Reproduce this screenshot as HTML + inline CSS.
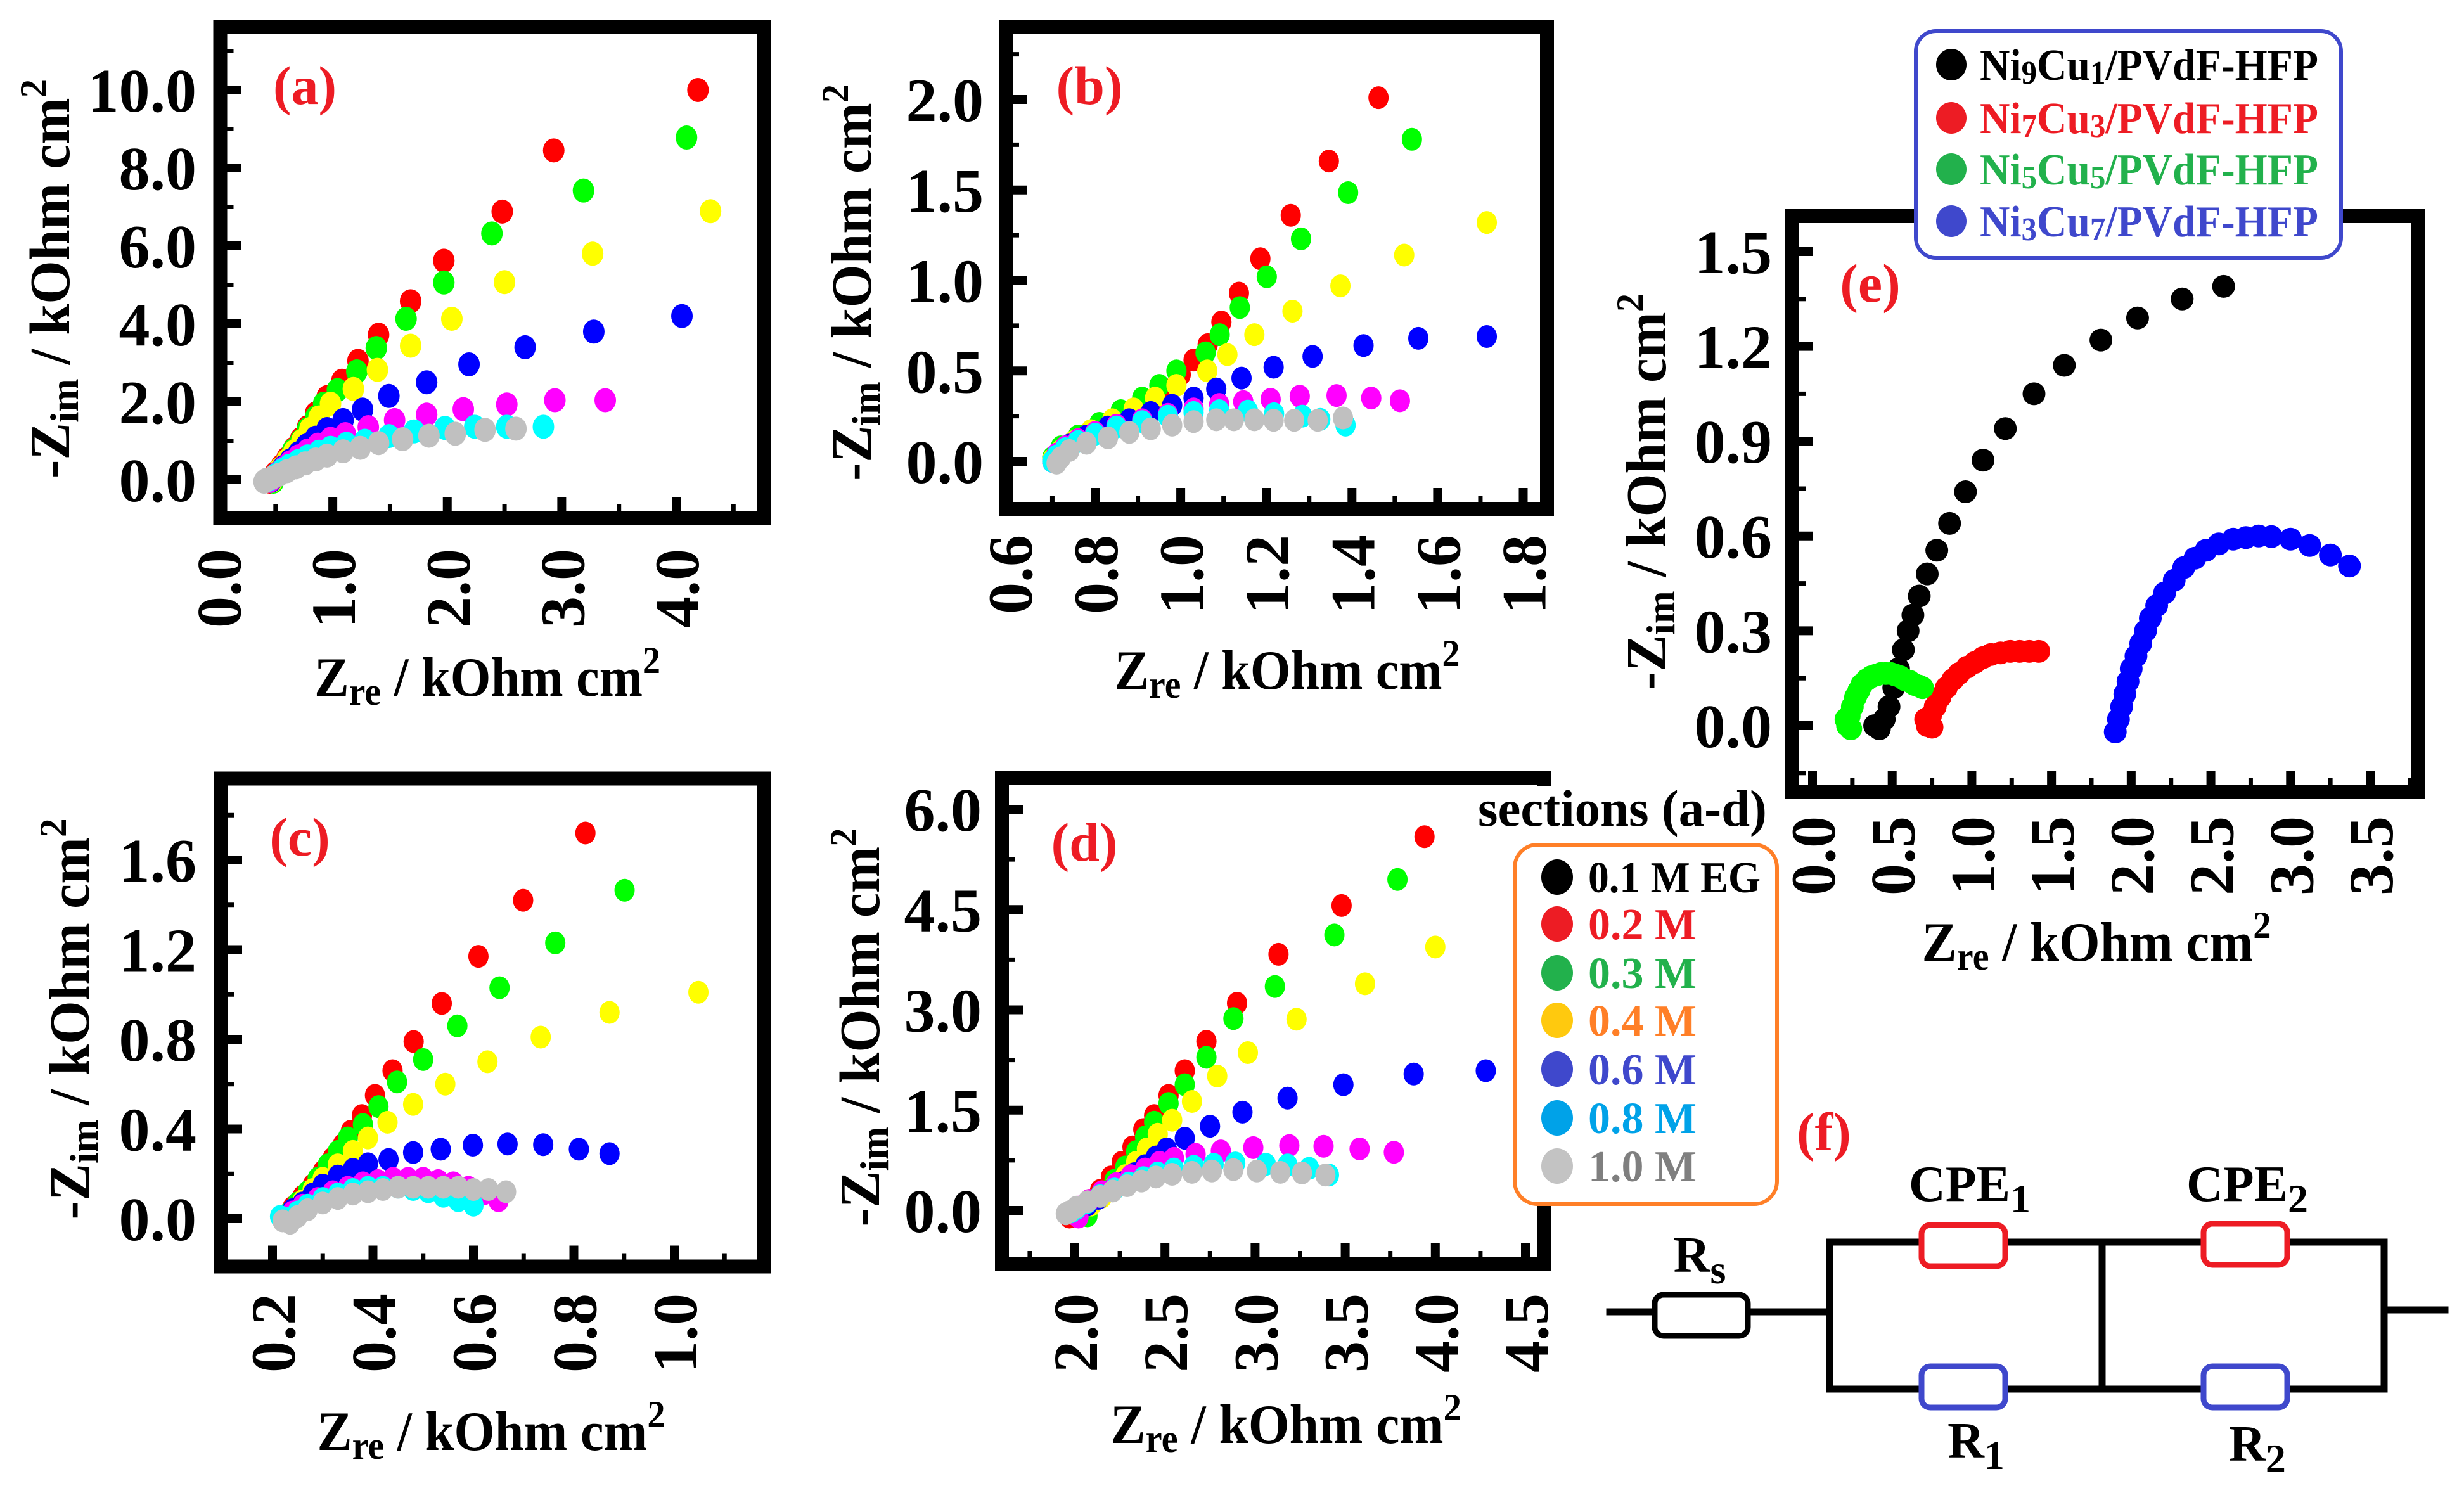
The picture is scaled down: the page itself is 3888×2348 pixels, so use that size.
<!DOCTYPE html>
<html><head><meta charset="utf-8"><style>
html,body{margin:0;padding:0;background:#fff;}
svg{display:block;}
text{font-family:"Liberation Serif","DejaVu Serif",serif;font-weight:bold;}
</style></head><body>
<svg id="fig" xmlns="http://www.w3.org/2000/svg" width="3888" height="2348" viewBox="0 0 3888 2348">
<rect x="0" y="0" width="3888" height="2348" fill="#fff"/>
</svg>
<script>
// ---------- DATA ----------
const seriesNames=['0.2 M','0.3 M','0.4 M','0.6 M','0.8 M','1.0 M'];
const seriesColors=['#ff0000','#00ff00','#ffff00','#0000ff','#ff00ff','#00ffff','#c0c0c0'];
// panel (a)
const a_red=[[4.19,10.0],[2.93,8.45],[2.48,6.88],[1.97,5.62],[1.68,4.58],[1.40,3.72],[1.22,3.05],[1.08,2.54],[0.95,2.12],[0.85,1.7],[0.78,1.35],[0.72,1.05],[0.66,0.8],[0.6,0.55],[0.55,0.35],[0.5,0.18],[0.47,0.05],[0.45,-0.05]];
const a_green=[[4.09,8.78],[3.19,7.42],[2.39,6.32],[1.97,5.06],[1.64,4.13],[1.38,3.38],[1.21,2.78],[1.04,2.3],[0.92,1.95],[0.85,1.6],[0.78,1.3],[0.72,1.0],[0.65,0.75],[0.6,0.5],[0.55,0.3],[0.5,0.1],[0.48,-0.05]];
const a_yellow=[[4.30,6.89],[3.27,5.8],[2.50,5.07],[2.04,4.13],[1.68,3.44],[1.39,2.82],[1.18,2.33],[0.98,1.95],[0.88,1.6],[0.8,1.3],[0.73,1.0],[0.66,0.72],[0.6,0.5],[0.54,0.28],[0.5,0.1],[0.47,-0.03]];
const a_blue=[[4.05,4.2],[3.28,3.8],[2.68,3.4],[2.19,2.96],[1.82,2.5],[1.49,2.15],[1.26,1.8],[1.09,1.53],[0.95,1.3],[0.85,1.08],[0.77,0.88],[0.7,0.68],[0.63,0.5],[0.57,0.33],[0.52,0.18],[0.48,0.05],[0.46,-0.03]];
const a_magenta=[[3.38,2.04],[2.94,2.04],[2.52,1.93],[2.14,1.81],[1.82,1.67],[1.54,1.53],[1.31,1.35],[1.11,1.17],[0.98,1.05],[0.87,0.9],[0.78,0.75],[0.7,0.6],[0.63,0.45],[0.57,0.3],[0.52,0.17],[0.48,0.05],[0.45,-0.03]];
const a_cyan=[[2.84,1.36],[2.52,1.36],[2.24,1.36],[1.98,1.33],[1.71,1.24],[1.49,1.12],[1.28,1.0],[1.12,0.92],[0.98,0.82],[0.88,0.72],[0.78,0.6],[0.7,0.48],[0.62,0.36],[0.56,0.25],[0.5,0.12],[0.45,0.02],[0.42,-0.03]];
const a_gray=[[2.6,1.31],[2.33,1.28],[2.07,1.18],[1.84,1.13],[1.61,1.04],[1.40,0.94],[1.24,0.82],[1.09,0.73],[0.95,0.62],[0.85,0.52],[0.76,0.42],[0.68,0.32],[0.6,0.22],[0.53,0.13],[0.47,0.05],[0.42,0.0],[0.4,-0.05]];
// panel (b)
const b_red=[[1.462,2.01],[1.346,1.66],[1.257,1.36],[1.186,1.12],[1.136,0.93],[1.095,0.77],[1.063,0.645],[1.03,0.56],[1.0,0.48],[0.96,0.4],[0.92,0.33],[0.87,0.26],[0.82,0.2],[0.77,0.14],[0.73,0.08],[0.71,0.03],[0.7,0.0]];
const b_green=[[1.54,1.78],[1.391,1.485],[1.281,1.23],[1.201,1.02],[1.138,0.85],[1.091,0.70],[1.058,0.6],[0.99,0.5],[0.95,0.42],[0.91,0.35],[0.86,0.28],[0.81,0.21],[0.76,0.14],[0.72,0.08],[0.7,0.02]];
const b_yellow=[[1.715,1.32],[1.522,1.14],[1.373,0.97],[1.261,0.83],[1.172,0.70],[1.109,0.59],[1.062,0.50],[0.99,0.42],[0.94,0.35],[0.89,0.29],[0.84,0.23],[0.79,0.17],[0.75,0.11],[0.72,0.06],[0.7,0.01]];
const b_blue=[[1.715,0.69],[1.555,0.68],[1.427,0.64],[1.308,0.58],[1.217,0.52],[1.142,0.46],[1.083,0.40],[1.03,0.35],[0.98,0.31],[0.93,0.27],[0.88,0.23],[0.83,0.19],[0.78,0.14],[0.74,0.09],[0.71,0.04],[0.7,0.0]];
const b_magenta=[[1.512,0.335],[1.445,0.35],[1.364,0.364],[1.278,0.36],[1.21,0.343],[1.146,0.33],[1.09,0.315],[1.03,0.29],[0.97,0.26],[0.91,0.23],[0.85,0.2],[0.8,0.16],[0.76,0.12],[0.73,0.08],[0.71,0.04],[0.7,0.0]];
const b_cyan=[[1.385,0.20],[1.326,0.232],[1.284,0.25],[1.218,0.263],[1.157,0.278],[1.09,0.28],[1.03,0.27],[0.97,0.25],[0.91,0.22],[0.85,0.19],[0.8,0.15],[0.76,0.11],[0.73,0.07],[0.71,0.03],[0.7,0.0]];
const b_gray=[[1.379,0.24],[1.32,0.227],[1.265,0.227],[1.217,0.227],[1.172,0.23],[1.124,0.23],[1.083,0.23],[1.03,0.22],[0.98,0.2],[0.93,0.18],[0.88,0.16],[0.83,0.13],[0.78,0.10],[0.74,0.06],[0.72,0.02],[0.71,-0.01]];
// panel (c)
const c_red=[[0.823,1.72],[0.699,1.42],[0.61,1.17],[0.537,0.96],[0.481,0.79],[0.439,0.66],[0.404,0.55],[0.378,0.46],[0.356,0.39],[0.34,0.33],[0.32,0.27],[0.3,0.21],[0.28,0.15],[0.26,0.1],[0.24,0.05],[0.225,0.01]];
const c_green=[[0.901,1.465],[0.763,1.23],[0.652,1.03],[0.568,0.86],[0.50,0.71],[0.448,0.61],[0.411,0.50],[0.38,0.42],[0.35,0.36],[0.33,0.3],[0.31,0.24],[0.29,0.18],[0.27,0.12],[0.25,0.07],[0.23,0.02]];
const c_yellow=[[1.048,1.01],[0.871,0.92],[0.734,0.81],[0.628,0.70],[0.544,0.60],[0.48,0.51],[0.429,0.43],[0.39,0.36],[0.36,0.3],[0.33,0.24],[0.3,0.18],[0.28,0.13],[0.26,0.08],[0.24,0.04],[0.225,0.0]];
const c_blue=[[0.871,0.29],[0.81,0.31],[0.739,0.33],[0.668,0.333],[0.599,0.328],[0.535,0.31],[0.48,0.295],[0.431,0.264],[0.39,0.245],[0.36,0.22],[0.33,0.19],[0.3,0.15],[0.28,0.11],[0.26,0.07],[0.24,0.04],[0.225,0.01]];
const c_magenta=[[0.65,0.08],[0.62,0.11],[0.59,0.14],[0.56,0.16],[0.53,0.17],[0.5,0.18],[0.47,0.18],[0.44,0.18],[0.41,0.17],[0.38,0.16],[0.35,0.14],[0.32,0.12],[0.29,0.09],[0.26,0.06],[0.24,0.03],[0.22,0.0]];
const c_cyan=[[0.6,0.06],[0.57,0.08],[0.54,0.1],[0.51,0.12],[0.48,0.13],[0.45,0.14],[0.42,0.14],[0.39,0.14],[0.36,0.13],[0.33,0.11],[0.3,0.09],[0.27,0.06],[0.25,0.03],[0.23,0.0],[0.215,0.01]];
const c_gray=[[0.665,0.12],[0.63,0.13],[0.6,0.13],[0.57,0.14],[0.54,0.14],[0.51,0.14],[0.48,0.14],[0.45,0.14],[0.42,0.13],[0.39,0.12],[0.36,0.11],[0.33,0.09],[0.3,0.07],[0.27,0.04],[0.25,0.01],[0.235,-0.02],[0.22,-0.01]];
// panel (d)
const d_red=[[3.94,5.59],[3.48,4.56],[3.13,3.83],[2.90,3.10],[2.73,2.53],[2.61,2.09],[2.52,1.72],[2.44,1.42],[2.38,1.21],[2.32,0.95],[2.26,0.72],[2.2,0.5],[2.14,0.3],[2.08,0.15],[2.03,0.05],[1.99,-0.05],[1.97,-0.1]];
const d_green=[[3.79,4.95],[3.44,4.12],[3.11,3.35],[2.88,2.87],[2.73,2.29],[2.61,1.88],[2.52,1.6],[2.44,1.32],[2.39,1.1],[2.34,0.88],[2.28,0.65],[2.22,0.45],[2.16,0.28],[2.1,0.12],[2.05,0.02],[2.07,-0.08]];
const d_yellow=[[4.0,3.94],[3.61,3.39],[3.23,2.86],[2.96,2.36],[2.79,2.01],[2.65,1.63],[2.54,1.35],[2.46,1.14],[2.4,0.92],[2.34,0.72],[2.28,0.52],[2.22,0.36],[2.15,0.2],[2.09,0.08],[2.03,0.0],[2.0,-0.05]];
const d_blue=[[4.28,2.09],[3.88,2.04],[3.49,1.88],[3.18,1.68],[2.93,1.47],[2.75,1.26],[2.61,1.08],[2.51,0.92],[2.45,0.8],[2.39,0.67],[2.33,0.55],[2.27,0.42],[2.2,0.3],[2.13,0.18],[2.07,0.08],[2.02,0.0],[1.98,-0.03]];
const d_magenta=[[3.77,0.87],[3.58,0.92],[3.38,0.96],[3.19,0.97],[2.99,0.94],[2.81,0.89],[2.67,0.84],[2.55,0.78],[2.47,0.72],[2.39,0.62],[2.31,0.52],[2.23,0.4],[2.15,0.28],[2.08,0.15],[2.02,0.05],[1.99,-0.05],[2.02,-0.1]];
const d_cyan=[[3.41,0.53],[3.30,0.63],[3.18,0.68],[3.06,0.69],[2.89,0.71],[2.77,0.69],[2.66,0.66],[2.55,0.62],[2.46,0.56],[2.38,0.49],[2.3,0.41],[2.22,0.32],[2.14,0.22],[2.07,0.12],[2.01,0.03],[1.98,-0.02]];
const d_gray=[[3.39,0.53],[3.26,0.56],[3.14,0.57],[3.01,0.59],[2.88,0.61],[2.76,0.59],[2.65,0.57],[2.54,0.54],[2.45,0.5],[2.37,0.44],[2.29,0.37],[2.21,0.29],[2.14,0.21],[2.07,0.13],[2.01,0.05],[1.97,-0.02],[1.95,-0.05]];
// panel (e)
const eNames=['Ni9Cu1/PVdF-HFP','Ni7Cu3/PVdF-HFP','Ni5Cu5/PVdF-HFP','Ni3Cu7/PVdF-HFP'];
const e_black=[[2.58,1.39],[2.32,1.35],[2.04,1.29],[1.81,1.22],[1.58,1.14],[1.39,1.05],[1.21,0.94],[1.07,0.84],[0.96,0.74],[0.86,0.64],[0.78,0.555],[0.72,0.48],[0.67,0.41],[0.63,0.35],[0.6,0.3],[0.57,0.24],[0.54,0.18],[0.51,0.12],[0.48,0.06],[0.45,0.02],[0.42,-0.01],[0.39,0.0]];
const e_red=[[0.72,0.0],[0.74,0.03],[0.77,0.06],[0.8,0.09],[0.84,0.12],[0.88,0.145],[0.92,0.165],[0.97,0.185],[1.02,0.2],[1.07,0.215],[1.12,0.225],[1.18,0.23],[1.24,0.235],[1.3,0.235],[1.36,0.235],[1.42,0.235],[0.71,0.02],[0.75,-0.005]];
const e_green=[[0.22,0.0],[0.23,0.03],[0.25,0.06],[0.27,0.09],[0.29,0.11],[0.31,0.13],[0.34,0.145],[0.37,0.155],[0.4,0.16],[0.43,0.165],[0.46,0.165],[0.49,0.165],[0.52,0.16],[0.55,0.155],[0.58,0.145],[0.61,0.14],[0.64,0.13],[0.67,0.125],[0.69,0.12],[0.21,0.02],[0.24,-0.01]];
const e_blue=[[1.9,-0.02],[1.92,0.02],[1.94,0.06],[1.96,0.1],[1.98,0.14],[2.0,0.18],[2.03,0.22],[2.06,0.26],[2.09,0.3],[2.12,0.34],[2.16,0.38],[2.21,0.42],[2.27,0.46],[2.33,0.5],[2.4,0.53],[2.47,0.555],[2.55,0.575],[2.64,0.59],[2.72,0.595],[2.8,0.6],[2.88,0.598],[3.0,0.59],[3.12,0.57],[3.25,0.54],[3.37,0.505]];
// ticks
const aXMajor=[0,1,2,3,4], aXLabels=['0.0','1.0','2.0','3.0','4.0'], aXMinor=[0.5,1.5,2.5,3.5,4.5];
const aYMajor=[0,2,4,6,8,10], aYLabels=['0.0','2.0','4.0','6.0','8.0','10.0'], aYMinor=[1,3,5,7,9,11];
const bXMajor=[0.6,0.8,1.0,1.2,1.4,1.6,1.8], bXLabels=['0.6','0.8','1.0','1.2','1.4','1.6','1.8'], bXMinor=[0.7,0.9,1.1,1.3,1.5,1.7];
const bYMajor=[0,0.5,1.0,1.5,2.0], bYLabels=['0.0','0.5','1.0','1.5','2.0'], bYMinor=[0.25,0.75,1.25,1.75,2.25];
const cXMajor=[0.2,0.4,0.6,0.8,1.0], cXLabels=['0.2','0.4','0.6','0.8','1.0'], cXMinor=[0.3,0.5,0.7,0.9,1.1];
const cYMajor=[0,0.4,0.8,1.2,1.6], cYLabels=['0.0','0.4','0.8','1.2','1.6'], cYMinor=[0.2,0.6,1.0,1.4,1.8];
const dXMajor=[2.0,2.5,3.0,3.5,4.0,4.5], dXLabels=['2.0','2.5','3.0','3.5','4.0','4.5'], dXMinor=[1.75,2.25,2.75,3.25,3.75,4.25];
const dYMajor=[0,1.5,3.0,4.5,6.0], dYLabels=['0.0','1.5','3.0','4.5','6.0'], dYMinor=[0.75,2.25,3.75,5.25];
const eXMajor=[0,0.5,1.0,1.5,2.0,2.5,3.0,3.5], eXLabels=['0.0','0.5','1.0','1.5','2.0','2.5','3.0','3.5'], eXMinor=[0.25,0.75,1.25,1.75,2.25,2.75,3.25,3.75];
const eYMajor=[0,0.3,0.6,0.9,1.2,1.5], eYLabels=['0.0','0.3','0.6','0.9','1.2','1.5'], eYMinor=[-0.15,0.15,0.45,0.75,1.05,1.35];

// ---------- DRAWING ----------
const NS='http://www.w3.org/2000/svg';
const svg=document.getElementById('fig');
function mk(tag,attrs,parent){const e=document.createElementNS(NS,tag);for(const k in attrs)e.setAttribute(k,attrs[k]);(parent||svg).appendChild(e);return e;}
function lin(d0,d1,r0,r1){return v=>r0+(v-d0)*(r1-r0)/(d1-d0);}

function panel(c){
  const g=mk('g',{});
  
  
  const X=lin(c.xd[0],c.xd[1],c.xr[0],c.xr[1]);
  const Y=lin(c.yd[0],c.yd[1],c.yr[0],c.yr[1]);
  const [fx,fy,fw,fh]=c.frame; const sw=22;
  const inL=fx+sw/2, inB=fy+fh-sw/2, inT=fy+sw/2, inR=fx+fw-sw/2;
  c.series.forEach((s,si)=>{
    const sg=mk('g',{},g);
    
    
    s.data.forEach(p=>{
      const el=mk('ellipse',{cx:X(p[0]),cy:Y(p[1]),rx:c.rx,ry:c.ry,fill:s.color},sg);
      
      
    });
  });
  const fr=mk('rect',{x:fx,y:fy,width:fw,height:fh,fill:'none',stroke:'#000','stroke-width':sw},g);
  
  
  c.xMajor.forEach((v,i)=>{const x=X(v); if(x<inL-2||x>inR+2)return;
    const t=mk('line',{x1:x,x2:x,y1:inB+sw/2,y2:inB-22,stroke:'#000','stroke-width':14},g);
    
    });
  c.xMinor.forEach(v=>{const x=X(v); if(x<inL||x>inR)return;
    const t=mk('line',{x1:x,x2:x,y1:inB,y2:inB-10,stroke:'#000','stroke-width':7},g);
    
    });
  c.yMajor.forEach(v=>{const y=Y(v); if(y<inT||y>inB)return;
    const t=mk('line',{x1:inL-sw/2,x2:inL+22,y1:y,y2:y,stroke:'#000','stroke-width':14},g);
    
    });
  c.yMinor.forEach(v=>{const y=Y(v); if(y<inT||y>inB)return;
    const t=mk('line',{x1:inL,x2:inL+10,y1:y,y2:y,stroke:'#000','stroke-width':7},g);
    
    });
  c.xMajor.forEach((v,i)=>{const x=X(v);
    const t=mk('text',{x:0,y:0,'font-size':100,'text-anchor':'end',dy:'0.35em',transform:`translate(${x},${c.xLabTop}) rotate(-90)`},g);
    t.textContent=c.xLabels[i];
    
    });
  c.yMajor.forEach((v,i)=>{const y=Y(v);
    const t=mk('text',{x:c.yLabRight,y:y+34,'font-size':98,'text-anchor':'end'},g);
    t.textContent=c.yLabels[i];
    
    });
  const xt=mk('text',{x:c.xt[0]-c.xt[2]/2,y:c.xt[1],'font-size':88,textLength:c.xt[2],lengthAdjust:'spacingAndGlyphs'},g);
  xt.innerHTML='Z<tspan font-size="62" dy="14">re</tspan><tspan dy="-14"> / kOhm cm</tspan><tspan font-size="60" dy="-36">2</tspan>';
  
  
  const yt=mk('text',{x:0,y:0,'font-size':90,'text-anchor':'middle',transform:`translate(${c.yt[0]+30},${c.yt[1]}) rotate(-90)`,textLength:c.yt[2],lengthAdjust:'spacingAndGlyphs'},g);
  yt.innerHTML='-Z<tspan font-size="64" dy="14">im</tspan><tspan dy="-14"> / kOhm cm</tspan><tspan font-size="60" dy="-36">2</tspan>';
  
  
  const tg=mk('text',{x:c.tag[0],y:c.tag[1]+28,'font-size':86,'text-anchor':'middle',fill:'#ed1c24'},g);
  tg.textContent='('+c.id+')';
  
  
}

const C=seriesColors;
panel({id:'a',frame:[347.5,42,858,775],xd:[0,4],xr:[344.5,1067],yd:[0,10],yr:[757,142],rx:17,ry:19,
  xMajor:aXMajor,xLabels:aXLabels,xMinor:aXMinor,yMajor:aYMajor,yLabels:aYLabels,yMinor:aYMinor,
  xLabTop:866,yLabRight:310,xt:[769,1098,546],yt:[79,440,630],tag:[481,136],
  series:[{name:'0.2M',color:C[0],data:a_red},{name:'0.3M',color:C[1],data:a_green},{name:'0.4M',color:C[2],data:a_yellow},{name:'0.6M',color:C[3],data:a_blue},{name:'magenta',color:C[4],data:a_magenta},{name:'cyan',color:C[5],data:a_cyan},{name:'1.0M',color:C[6],data:a_gray}]});
panel({id:'b',frame:[1587,42,854,761],xd:[0.8,1.8],xr:[1728,2403.5],yd:[0,2],yr:[728,157],rx:16,ry:18,
  xMajor:bXMajor,xLabels:bXLabels,xMinor:bXMinor,yMajor:bYMajor,yLabels:bYLabels,yMinor:bYMinor,
  xLabTop:844,yLabRight:1552,xt:[2031,1087,545],yt:[1344,446,626],tag:[1719,136],
  series:[{name:'0.2M',color:C[0],data:b_red},{name:'0.3M',color:C[1],data:b_green},{name:'0.4M',color:C[2],data:b_yellow},{name:'0.6M',color:C[3],data:b_blue},{name:'magenta',color:C[4],data:b_magenta},{name:'cyan',color:C[5],data:b_cyan},{name:'1.0M',color:C[6],data:b_gray}]});
panel({id:'c',frame:[349,1228.5,857,770],xd:[0.2,1.0],xr:[430,1064],yd:[0,1.6],yr:[1923,1357],rx:16,ry:18,
  xMajor:cXMajor,xLabels:cXLabels,xMinor:cXMinor,yMajor:cYMajor,yLabels:cYLabels,yMinor:cYMinor,
  xLabTop:2041,yLabRight:310,xt:[775,2288,549],yt:[110,1608,633],tag:[473,1322],
  series:[{name:'0.2M',color:C[0],data:c_red},{name:'0.3M',color:C[1],data:c_green},{name:'0.4M',color:C[2],data:c_yellow},{name:'0.6M',color:C[3],data:c_blue},{name:'magenta',color:C[4],data:c_magenta},{name:'cyan',color:C[5],data:c_cyan},{name:'1.0M',color:C[6],data:c_gray}]});
panel({id:'d',frame:[1581,1227,855,768],xd:[2,4.5],xr:[1696,2407],yd:[0,6],yr:[1910,1277],rx:16,ry:18,
  xMajor:dXMajor,xLabels:dXLabels,xMinor:dXMinor,yMajor:dYMajor,yLabels:dYLabels,yMinor:dYMinor,
  xLabTop:2041,yLabRight:1549,xt:[2029,2277,554],yt:[1357,1621,629],tag:[1711,1330],
  series:[{name:'0.2M',color:C[0],data:d_red},{name:'0.3M',color:C[1],data:d_green},{name:'0.4M',color:C[2],data:d_yellow},{name:'0.6M',color:C[3],data:d_blue},{name:'magenta',color:C[4],data:d_magenta},{name:'cyan',color:C[5],data:d_cyan},{name:'1.0M',color:C[6],data:d_gray}]});
panel({id:'e',frame:[2828,341,988,908],xd:[0,3.5],xr:[2860,3740],yd:[0,1.5],yr:[1145,397],rx:18,ry:18,
  xMajor:eXMajor,xLabels:eXLabels,xMinor:eXMinor,yMajor:eYMajor,yLabels:eYLabels,yMinor:eYMinor,
  xLabTop:1288,yLabRight:2796,xt:[3308,1516,551],yt:[2598,776,626],tag:[2951,448],
  series:[{name:'Ni9Cu1',color:'#000',data:e_black},{name:'Ni7Cu3',color:'#ff0000',data:e_red},{name:'Ni5Cu5',color:'#00ff00',data:e_green},{name:'Ni3Cu7',color:'#0000ff',data:e_blue}]});

// ---------- LEGEND (e) ----------
const le=mk('g',{});


mk('rect',{x:3023,y:49,width:671,height:358,rx:32,fill:'#fff',stroke:'#3f48cc','stroke-width':6},le);
const eCols=['#000','#ed1c24','#22b14c','#3f48cc'];
const eRows=[102,186,267,349];
const eSub=[['9','1'],['7','3'],['5','5'],['3','7']];
eRows.forEach((y,i)=>{
  const m=mk('ellipse',{cx:3079,cy:y,rx:24,ry:25,fill:eCols[i]},le);
  
  
  const t=mk('text',{x:3124,y:y+24,'font-size':70,fill:eCols[i],textLength:534,lengthAdjust:'spacingAndGlyphs'},le);
  t.innerHTML='Ni<tspan font-size="52" dy="6">'+eSub[i][0]+'</tspan><tspan dy="-6">Cu</tspan><tspan font-size="52" dy="6">'+eSub[i][1]+'</tspan><tspan dy="-6">/PVdF-HFP</tspan>';
  
  
});

// ---------- LEGEND sections ----------
const ls=mk('g',{});


mk('rect',{x:2322,y:1240,width:480,height:90,fill:'#fff'},ls);
const st=mk('text',{x:2332,y:1303,'font-size':82,textLength:456,lengthAdjust:'spacingAndGlyphs'},ls);
st.textContent='sections (a-d)';


mk('rect',{x:2390,y:1333,width:414,height:567,rx:36,fill:'#fff',stroke:'#ff7f27','stroke-width':6},ls);
const sLabels=['0.1 M EG','0.2 M','0.3 M','0.4 M','0.6 M','0.8 M','1.0 M'];
const sMark=['#000','#ed1c24','#22b14c','#ffc90e','#3f48cc','#00a2e8','#c3c3c3'];
const sText=['#000','#ed1c24','#22b14c','#ff7f27','#3f48cc','#00a2e8','#7f7f7f'];
const sRows=[1384,1458,1535,1610,1687,1764,1840];
sRows.forEach((y,i)=>{
  const m=mk('ellipse',{cx:2457,cy:y,rx:25,ry:28,fill:sMark[i]},ls);
  
  
  const a={x:2506,y:y+24,'font-size':70,fill:sText[i]};
  if(i===0){a.textLength=272;a.lengthAdjust='spacingAndGlyphs';}
  const t=mk('text',a,ls);
  t.textContent=sLabels[i];
  
  
});

// ---------- CIRCUIT (f) ----------
const cf=mk('g',{});


const W='stroke:#000;stroke-width:11;fill:none;stroke-linecap:square';
mk('path',{d:'M2540 2070 H2611 M2758 2070 H2887 M2887 1960 V2192 M2887 1960 H3032 M3163 1960 H3477 M3609 1960 H3762 V2192 H3609 M3477 2192 H3165 M3032 2192 H2887 M3317 1960 V2192 M3762 2067 H3858',style:W},cf);
const rs=mk('rect',{x:2611,y:2043,width:147,height:65,rx:14,fill:'#fff',stroke:'#000','stroke-width':9},cf);


[[3032,1933,'#ed1c24','cpe1'],[3477,1931,'#ed1c24','cpe2'],[3032,2156,'#3f48cc','r1'],[3477,2156,'#3f48cc','r2']].forEach(b=>{
  const r=mk('rect',{x:b[0],y:b[1],width:132,height:65,rx:14,fill:'#fff',stroke:b[2],'stroke-width':9},cf);
  
  
});
function clab(x,y,main,sub,name){
  const t=mk('text',{x:x,y:y,'font-size':80,'text-anchor':'middle'},cf);
  t.innerHTML=main+'<tspan font-size="64" dy="18">'+sub+'</tspan>';
  
  
}
clab(2682,2007,'R','s','label-rs');
clab(3108,1895,'CPE','1','label-cpe1');
clab(3546,1895,'CPE','2','label-cpe2');
clab(3118,2300,'R','1','label-r1');
clab(3562,2305,'R','2','label-r2');
const fl=mk('text',{x:2878,y:1815,'font-size':86,'text-anchor':'middle',fill:'#ed1c24'},cf);
fl.textContent='(f)';


</script>
</body></html>
